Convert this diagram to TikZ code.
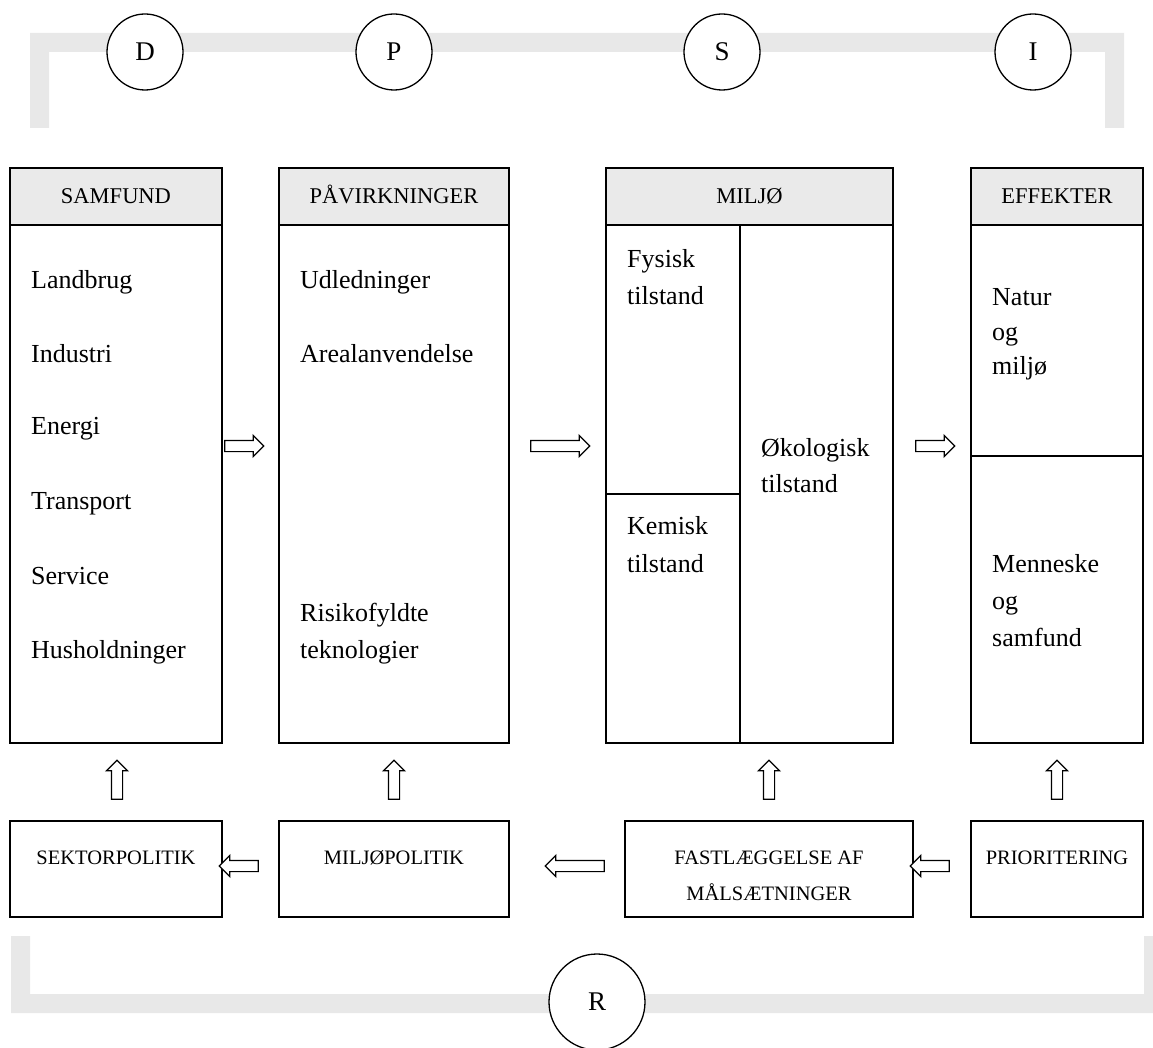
\documentclass[tikz,border=0pt]{standalone}
\usepackage{fontspec}
\setmainfont{Liberation Serif}
\usetikzlibrary{shapes.arrows}
\definecolor{band}{HTML}{E8E8E8}
\definecolor{hdr}{HTML}{EAEAEA}
\begin{document}
\begin{tikzpicture}[x=1pt,y=-1pt,
  box/.style={draw, line width=1.6pt, inner sep=0pt, minimum height=575pt},
  hdrbox/.style={draw, line width=1.6pt, fill=hdr, inner sep=0pt, minimum height=57pt, text height=15pt, text depth=0pt, font=\fontsize{22.5}{26}\selectfont},
  polbox/.style={draw, line width=1.6pt, inner sep=0pt, minimum height=96pt},
  poltxt/.style={inner sep=0pt, text height=14pt, text depth=0pt, font=\fontsize{20.5}{24}\selectfont},
  body/.style={anchor=base west, inner sep=0pt, font=\fontsize{26}{30}\selectfont},
  circ/.style={circle, draw, line width=1.3pt, fill=white, inner sep=0pt, font=\fontsize{27}{30}\selectfont},
  blockarrow/.style={single arrow, draw, line width=1.2pt, fill=white, inner sep=5pt, single arrow head extend=5pt, single arrow tip angle=90},
  divider/.style={line width=1.6pt}
]
\fill[white] (0,0) rectangle (1153,1048);
\useasboundingbox (0,0) rectangle (1153,1048);

% grey bands
\fill[band] (30,128) -- (30,33) -- (1124,33) -- (1124,128) -- (1105,128) -- (1105,52) -- (49,52) -- (49,128) -- cycle;
\fill[band] (11,936) -- (11,1013) -- (1163,1013) -- (1163,936) -- (1144,936) -- (1144,994) -- (30,994) -- (30,936) -- cycle;

% circles
\node[circ, minimum size=76pt] (cD) at (145,52) {D};
\node[circ, minimum size=76pt] (cP) at (394,52) {P};
\node[circ, minimum size=76pt] (cS) at (722,52) {S};
\node[circ, minimum size=76pt] (cI) at (1033,52) {I};
\node[circ, minimum size=96pt] (cR) at (597,1002) {R};

% columns
\node[box, minimum width=212pt] (samfund) at (116,455.5) {};
\node[hdrbox, minimum width=212pt] (samfundH) at (116,196.5) {SAMFUND};
\node[box, minimum width=230pt] (pav) at (394,455.5) {};
\node[hdrbox, minimum width=230pt] (pavH) at (394,196.5) {PÅVIRKNINGER};
\node[box, minimum width=287pt] (miljo) at (749.5,455.5) {};
\node[hdrbox, minimum width=287pt] (miljoH) at (749.5,196.5) {MILJØ};
\node[box, minimum width=172pt] (eff) at (1057,455.5) {};
\node[hdrbox, minimum width=172pt] (effH) at (1057,196.5) {EFFEKTER};

\coordinate (mdivTop) at (740,225);
\coordinate (mdivBot) at (740,743);
\coordinate (mhL) at (606,494);
\coordinate (mhR) at (740,494);
\coordinate (ehL) at (971,456);
\coordinate (ehR) at (1143,456);
\draw[divider] (mdivTop) -- (mdivBot);
\draw[divider] (mhL) -- (mhR);
\draw[divider] (ehL) -- (ehR);

% column texts
\node[body] (t1) at (31,289) {Landbrug};
\node[body] (t2) at (31,362) {Industri};
\node[body] (t3) at (31,434) {Energi};
\node[body] (t4) at (31,509) {Transport};
\node[body] (t5) at (31,584) {Service};
\node[body] (t6) at (31,658) {Husholdninger};

\node[body] (p1) at (300,289) {Udledninger};
\node[body] (p2) at (300,362) {Arealanvendelse};
\node[body] (p3) at (300,621) {Risikofyldte};
\node[body] (p4) at (300,658) {teknologier};

\node[body] (m1) at (627,268) {Fysisk};
\node[body] (m2) at (627,305) {tilstand};
\node[body] (m3) at (627,534) {Kemisk};
\node[body] (m4) at (627,572) {tilstand};
\node[body] (m5) at (761,456) {Økologisk};
\node[body] (m6) at (761,492) {tilstand};

\node[body] (e1) at (992,306) {Natur};
\node[body] (e2) at (992,341) {og};
\node[body] (e3) at (992,374) {miljø};
\node[body] (e4) at (992,572) {Menneske};
\node[body] (e5) at (992,609) {og};
\node[body] (e6) at (992,646) {samfund};

% right arrows
\node[blockarrow, minimum height=39pt] (ra1) at (241.5,446) {};
\node[blockarrow, minimum height=59pt] (ra2) at (557.5,446) {};
\node[blockarrow, minimum height=39pt] (ra3) at (932.5,446) {};

% policy boxes
\node[polbox, minimum width=212pt] (sektor) at (116,869) {};
\node[polbox, minimum width=230pt] (miljopol) at (394,869) {};
\node[polbox, minimum width=288pt] (fastl) at (769,869) {};
\node[polbox, minimum width=172pt] (prior) at (1057,869) {};
\node[poltxt] (sektorT) at (116,857) {SEKTORPOLITIK};
\node[poltxt] (miljopolT) at (394,857) {MILJØPOLITIK};
\node[poltxt] (fastlT1) at (769,857) {FASTLÆGGELSE AF};
\node[poltxt] (fastlT2) at (769,893) {MÅLSÆTNINGER};
\node[poltxt] (priorT) at (1057,857) {PRIORITERING};

% up arrows
\node[blockarrow, shape border rotate=90, minimum height=39pt] (ua1) at (117,782.5) {};
\node[blockarrow, shape border rotate=90, minimum height=39pt] (ua2) at (394,782.5) {};
\node[blockarrow, shape border rotate=90, minimum height=39pt] (ua3) at (769,782.5) {};
\node[blockarrow, shape border rotate=90, minimum height=39pt] (ua4) at (1057,782.5) {};

% left arrows
\node[blockarrow, shape border rotate=180, minimum height=39pt] (la1) at (241.5,866) {};
\node[blockarrow, shape border rotate=180, minimum height=59pt] (la2) at (577.5,866) {};
\node[blockarrow, shape border rotate=180, minimum height=39pt] (la3) at (932.5,866) {};
\end{tikzpicture}
\end{document}
